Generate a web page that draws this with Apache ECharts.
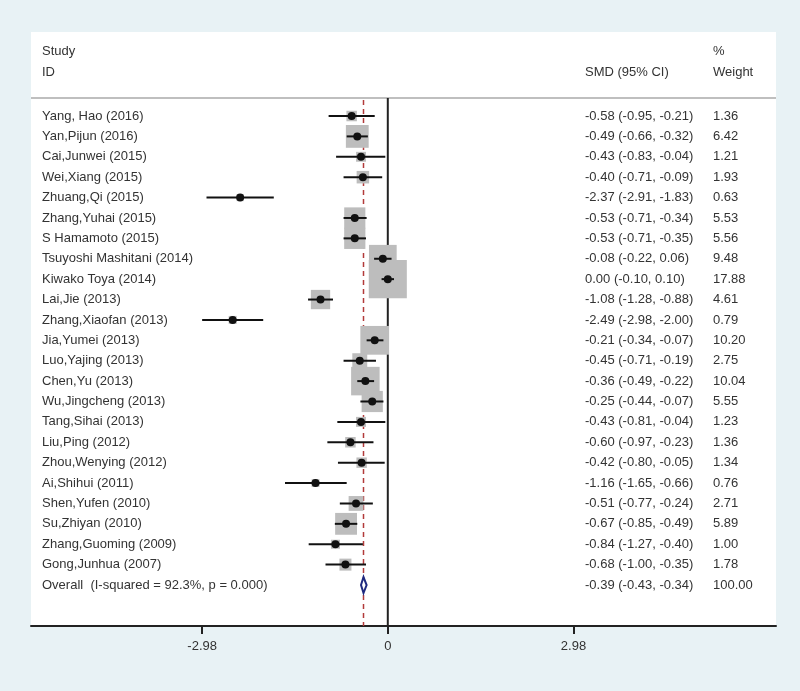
<!DOCTYPE html>
<html>
<head>
<meta charset="utf-8">
<script src="https://cdn.jsdelivr.net/npm/echarts@6/dist/echarts.min.js"></script>
<style>
  html, body { margin: 0; padding: 0; background: #e8f2f5; }
  #chart { width: 800px; height: 691px; }
</style>
</head>
<body>
<div id="chart"></div>
<script>
// 研究数据
const studies = [
  'Yang, Hao (2016)', 'Yan,Pijun (2016)', 'Cai,Junwei (2015)', 'Wei,Xiang (2015)',
  'Zhuang,Qi (2015)', 'Zhang,Yuhai (2015)', 'S Hamamoto (2015)', 'Tsuyoshi Mashitani (2014)',
  'Kiwako Toya (2014)', 'Lai,Jie (2013)', 'Zhang,Xiaofan (2013)', 'Jia,Yumei (2013)',
  'Luo,Yajing (2013)', 'Chen,Yu (2013)', 'Wu,Jingcheng (2013)', 'Tang,Sihai (2013)',
  'Liu,Ping (2012)', 'Zhou,Wenying (2012)', 'Ai,Shihui (2011)', 'Shen,Yufen (2010)',
  'Su,Zhiyan (2010)', 'Zhang,Guoming (2009)', 'Gong,Junhua (2007)'
];
const smd = [-0.58, -0.49, -0.43, -0.40, -2.37, -0.53, -0.53, -0.08, 0.00, -1.08, -2.49, -0.21,
  -0.45, -0.36, -0.25, -0.43, -0.60, -0.42, -1.16, -0.51, -0.67, -0.84, -0.68];
const ciLow = [-0.95, -0.66, -0.83, -0.71, -2.91, -0.71, -0.71, -0.22, -0.10, -1.28, -2.98, -0.34,
  -0.71, -0.49, -0.44, -0.81, -0.97, -0.80, -1.65, -0.77, -0.85, -1.27, -1.00];
const ciHigh = [-0.21, -0.32, -0.04, -0.09, -1.83, -0.34, -0.35, 0.06, 0.10, -0.88, -2.00, -0.07,
  -0.19, -0.22, -0.07, -0.04, -0.23, -0.05, -0.66, -0.24, -0.49, -0.40, -0.35];
const weights = [1.36, 6.42, 1.21, 1.93, 0.63, 5.53, 5.56, 9.48, 17.88, 4.61, 0.79, 10.20,
  2.75, 10.04, 5.55, 1.23, 1.36, 1.34, 0.76, 2.71, 5.89, 1.00, 1.78];

// 合并效应
const overallLabel = 'Overall  (I-squared = 92.3%, p = 0.000)';
const overall = [-0.39, -0.43, -0.34];
const overallWeight = '100.00';

// 坐标轴刻度
const tickValues = [-2.98, 0, 2.98];
const tickLabels = ['-2.98', '0', '2.98'];

// 坐标范围
const xMin = -5.727, xMax = 6.231;
const yMin = -4.12, yMax = 25.01;
const sepRow = -0.88;

const fmt = v => v.toFixed(2);
const smdText = i => fmt(smd[i]) + ' (' + fmt(ciLow[i]) + ', ' + fmt(ciHigh[i]) + ')';

const rows = studies.map((s, i) => [smd[i], ciLow[i], ciHigh[i], weights[i], i]);
const overallRow = studies.length;

const chart = echarts.init(document.getElementById('chart'));

const textStyle = { fill: '#333', fontSize: 13, fontFamily: 'Liberation Sans, Arial, sans-serif' };

const option = {
  animation: false,
  backgroundColor: '#e8f2f5',
  grid: { left: 31, right: 24, top: 32, bottom: 65, show: true, backgroundColor: '#fff', borderWidth: 0 },
  xAxis: {
    type: 'value', min: xMin, max: xMax,
    splitLine: { show: false },
    axisLine: { show: true, onZero: false, lineStyle: { color: '#222', width: 2 } },
    axisTick: { show: true, customValues: tickValues, length: 8, lineStyle: { color: '#222', width: 2 } },
    axisLabel: {
      customValues: tickValues, margin: 14, color: '#333', fontSize: 13,
      fontFamily: 'Liberation Sans, Arial, sans-serif',
      formatter: v => tickLabels[tickValues.indexOf(Math.round(v * 100) / 100)] ?? ''
    }
  },
  yAxis: { type: 'value', inverse: true, min: yMin, max: yMax, show: false },
  graphic: [
    { type: 'text', left: 42, top: 45, style: Object.assign({ text: 'Study' }, textStyle) },
    { type: 'text', left: 42, top: 66, style: Object.assign({ text: 'ID' }, textStyle) },
    { type: 'text', left: 585, top: 66, style: Object.assign({ text: 'SMD (95% CI)' }, textStyle) },
    { type: 'text', left: 713, top: 45, style: Object.assign({ text: '%' }, textStyle) },
    { type: 'text', left: 713, top: 66, style: Object.assign({ text: 'Weight' }, textStyle) }
  ],
  series: [
    // 表头分隔线
    {
      type: 'line', data: [[xMin, sepRow], [xMax, sepRow]], symbol: 'none', z: 1,
      lineStyle: { color: '#aaa', width: 1.5 }
    },
    // 无效线
    {
      type: 'line', data: [[0, sepRow], [0, yMax]], symbol: 'none', z: 1,
      lineStyle: { color: '#222', width: 2 }
    },
    // 合并效应虚线
    {
      type: 'line', data: [[overall[0], sepRow + 0.1], [overall[0], yMax]], symbol: 'none', z: 1,
      lineStyle: { color: '#b23a3a', width: 1.5, type: [5, 4] }
    },
    // 权重方块
    {
      type: 'custom', z: 2, data: rows,
      renderItem(params, api) {
        const c = api.coord([api.value(0), api.value(4)]);
        const s = 9 * Math.sqrt(api.value(3));
        return { type: 'rect', shape: { x: c[0] - s / 2, y: c[1] - s / 2, width: s, height: s }, style: { fill: '#bdbdbd' } };
      }
    },
    // 置信区间和点
    {
      type: 'custom', z: 3, data: rows,
      renderItem(params, api) {
        const row = api.value(4);
        const c = api.coord([api.value(0), row]);
        const l = api.coord([api.value(1), row]);
        const h = api.coord([api.value(2), row]);
        return {
          type: 'group', children: [
            { type: 'line', shape: { x1: l[0], y1: l[1], x2: h[0], y2: h[1] }, style: { stroke: '#111', lineWidth: 2 } },
            { type: 'circle', shape: { cx: c[0], cy: c[1], r: 4 }, style: { fill: '#111' } }
          ]
        };
      }
    },
    // 合并效应菱形
    {
      type: 'custom', z: 3, data: [[overall[0], overall[1], overall[2], overallRow]],
      renderItem(params, api) {
        const row = api.value(3);
        const c = api.coord([api.value(0), row]);
        const l = api.coord([api.value(1), row]);
        const h = api.coord([api.value(2), row]);
        return {
          type: 'polygon',
          shape: { points: [[l[0], c[1]], [c[0], c[1] - 8], [h[0], c[1]], [c[0], c[1] + 8]] },
          style: { fill: '#fff', stroke: '#1f2a80', lineWidth: 2 }
        };
      }
    },
    // 文本列
    {
      type: 'custom', z: 4, data: rows.map(r => [0, r[4]]).concat([[0, overallRow]]),
      renderItem(params, api) {
        const i = params.dataIndex;
        const y = api.coord([0, api.value(1)])[1];
        const isOverall = i === studies.length;
        const texts = [
          [42, isOverall ? overallLabel : studies[i]],
          [585, isOverall ? fmt(overall[0]) + ' (' + fmt(overall[1]) + ', ' + fmt(overall[2]) + ')' : smdText(i)],
          [713, isOverall ? overallWeight : fmt(weights[i])]
        ];
        return {
          type: 'group',
          children: texts.map(t => ({
            type: 'text', x: t[0], y: y,
            style: Object.assign({ text: t[1], verticalAlign: 'middle', align: 'left' }, textStyle)
          }))
        };
      }
    }
  ]
};

chart.setOption(option);
</script>
</body>
</html>
